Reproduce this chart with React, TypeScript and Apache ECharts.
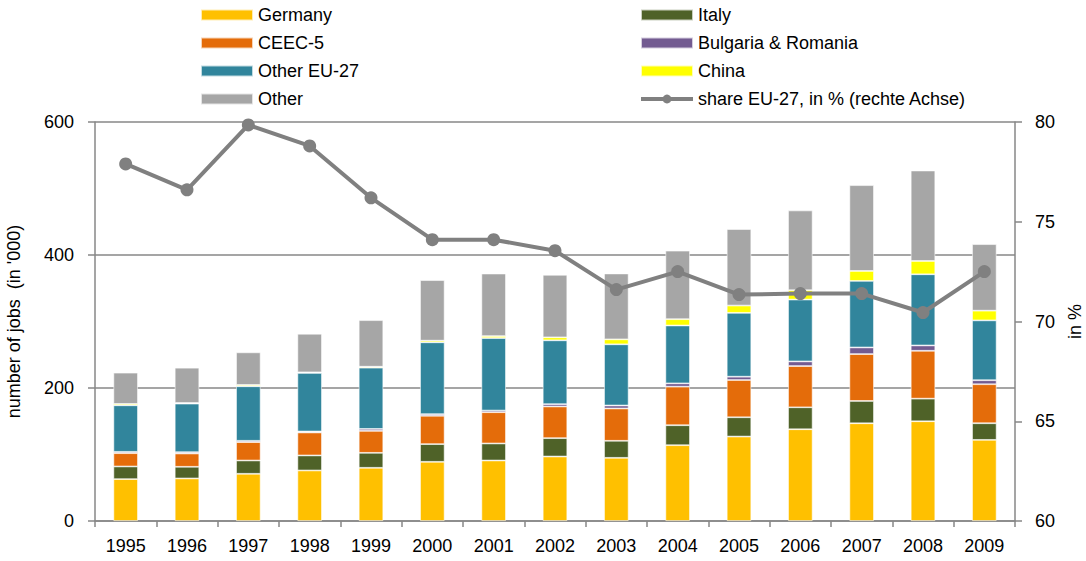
import React, { useEffect, useRef } from "react";
import * as echarts from "echarts";

const years = ["1995","1996","1997","1998","1999","2000","2001","2002","2003","2004","2005","2006","2007","2008","2009"];
const germany = [63, 64, 71, 76, 80, 89, 91, 97, 95, 114, 127, 138, 147, 150, 122];
const italy = [19, 17.5, 20, 22.6, 22.5, 26.6, 25.6, 27.6, 25.6, 30, 29, 33, 33.5, 34, 25];
const ceec5 = [20, 20, 27.6, 34.5, 33, 42.6, 47, 47.6, 48.6, 58, 56, 62, 70.5, 72, 58.7];
const bgro = [2, 2, 2, 1.5, 3, 2.5, 2.5, 3.5, 4.5, 5, 5, 7, 10, 8, 6];
const otherEU = [70, 73, 82, 88, 92, 108, 109, 96, 92, 87, 96, 93, 100, 107, 90];
const china = [2, 1, 2, 1, 1.5, 2.5, 3, 4.5, 7.5, 9.5, 11, 14, 15, 20, 14.6];
const other = [47, 53, 49, 58, 70, 91, 94, 94, 99, 103, 115, 120, 129, 136, 100];
const shareEU = [77.9, 76.6, 79.85, 78.8, 76.2, 74.1, 74.1, 73.55, 71.6, 72.5, 71.35, 71.4, 71.4, 70.45, 72.5];

const legendLeft = ["Germany", "CEEC-5", "Other EU-27", "Other"];
const legendRight = ["Italy", "Bulgaria & Romania", "China"];
const lineName = "share EU-27, in % (rechte Achse)";

const FONT = "Liberation Sans";
const AXIS_COLOR = "#878787";
const FS = 18;

export default function App() {
  const ref = useRef<HTMLDivElement>(null);
  useEffect(() => {
    if (!ref.current) return;
    document.body.style.margin = "0";
    const chart = echarts.init(ref.current, null, { renderer: "svg" });
    const bar = (name: string, data: number[], color: string) => ({
      name,
      type: "bar",
      stack: "jobs",
      data,
      barWidth: "40%",
      itemStyle: { color, borderColor: "rgba(255,255,255,0.7)", borderWidth: 0.8 },
    });
    const legendBase = {
      orient: "vertical",
      top: 6,
      padding: 0,
      itemWidth: 52,
      itemHeight: 11,
      itemGap: 10,
      textStyle: { fontSize: FS, lineHeight: 18, fontFamily: FONT, color: "#000", padding: [0, 0, 0, 0] },
    };
    chart.setOption({
      animation: false,
      textStyle: { fontFamily: FONT, color: "#000" },
      grid: { left: 95, right: 71, top: 122, bottom: 40, containLabel: false, outerBoundsMode: "none" },
      legend: [
        {
          ...legendBase,
          left: 200,
          data: legendLeft.map((n) => ({ name: n, icon: "rect" })),
        },
        {
          ...legendBase,
          left: 639,
          data: [
            ...legendRight.map((n) => ({ name: n, icon: "rect" })),
            { name: lineName, lineStyle: { width: 4, color: "#808080" } },
          ],
        },
      ],
      xAxis: {
        type: "category",
        data: years,
        axisLine: { lineStyle: { color: AXIS_COLOR, width: 1.5 } },
        axisTick: { show: true, alignWithLabel: false, length: 6, lineStyle: { color: AXIS_COLOR, width: 1.5 } },
        axisLabel: { fontSize: FS, color: "#000", fontFamily: FONT, margin: 16 },
      },
      yAxis: [
        {
          type: "value",
          min: 0,
          max: 600,
          interval: 200,
          name: "number of jobs  (in '000)",
          nameLocation: "middle",
          nameGap: 72,
          nameTextStyle: { fontSize: FS, color: "#000", fontFamily: FONT },
          axisLine: { show: true, lineStyle: { color: AXIS_COLOR, width: 1.5 } },
          axisTick: { show: true, length: 7, lineStyle: { color: AXIS_COLOR, width: 1.5 } },
          axisLabel: { fontSize: FS, color: "#000", fontFamily: FONT, margin: 21 },
          splitLine: { show: true, lineStyle: { color: AXIS_COLOR, width: 1.5 } },
        },
        {
          type: "value",
          min: 60,
          max: 80,
          interval: 5,
          position: "right",
          name: "in %",
          nameLocation: "middle",
          nameGap: 51,
          nameRotate: 90,
          nameTextStyle: { fontSize: FS, color: "#000", fontFamily: FONT },
          axisLine: { show: true, lineStyle: { color: AXIS_COLOR, width: 1.5 } },
          axisTick: { show: true, length: 7, lineStyle: { color: AXIS_COLOR, width: 1.5 } },
          axisLabel: { fontSize: FS, color: "#000", fontFamily: FONT, margin: 20 },
          splitLine: { show: false },
        },
      ],
      series: [
        bar("Germany", germany, "#FFC000"),
        bar("Italy", italy, "#4F6228"),
        bar("CEEC-5", ceec5, "#E46C0A"),
        bar("Bulgaria & Romania", bgro, "#735B91"),
        bar("Other EU-27", otherEU, "#31859C"),
        bar("China", china, "#FFFF00"),
        bar("Other", other, "#A6A6A6"),
        {
          name: lineName,
          type: "line",
          yAxisIndex: 1,
          data: shareEU,
          symbol: "circle",
          symbolSize: 13,
          lineStyle: { color: "#808080", width: 4 },
          itemStyle: { color: "#808080" },
          z: 5,
        },
      ],
    });
    return () => chart.dispose();
  }, []);
  return <div ref={ref} style={{ width: 1086, height: 561 }} />;
}
